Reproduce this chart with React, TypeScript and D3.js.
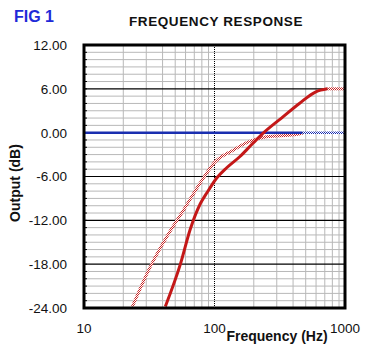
import React from 'react'
import * as d3 from 'd3'

// frequency response readings (Hz, dB)
const solidFreq = [42, 55, 65, 78, 87, 104, 124, 156, 197, 242, 326, 447, 598, 733]
const solidDb = [-23.8, -17.9, -13.3, -9.7, -8.3, -6.2, -4.8, -3.3, -1.45, 0.1, 2.0, 4.0, 5.6, 6.0]
const solidTailFreq = [733, 1000]
const solidTailDb = [6.0, 6.0]

const hatchFreq = [23.5, 32.3, 43.2, 57.9, 77.6, 101, 139, 186, 250, 409, 473]
const hatchDb = [-23.8, -18.3, -14.2, -10.6, -6.9, -4.0, -2.4, -1.2, -0.55, -0.3, -0.1]

const flatFreq = [10, 473]
const flatDb = [0, 0]
const flatTailFreq = [473, 1000]
const flatTailDb = [0, 0]

const yTicks = [12, 6, 0, -6, -12, -18, -24]
const xTicks = [10, 100, 1000]

const W = 375, H = 364
const left = 84, right = 345, top = 45, bottom = 308

const font = 'Liberation Sans, Arial, sans-serif'

export default function App() {
	const x = d3.scaleLog().domain([10, 1000]).range([left, right])
	const y = d3.scaleLinear().domain([-24, 12]).range([bottom, top])

	const line = d3.line<[number, number]>()
		.x(d => x(d[0]))
		.y(d => y(d[1]))
		.curve(d3.curveMonotoneX)

	const pts = (f: number[], v: number[]) => f.map((ff, i) => [ff, v[i]] as [number, number])

	const minorY = d3.range(-23, 12).filter(v => v % 6 !== 0)
	const minorX = [20, 30, 40, 50, 60, 70, 80, 90, 200, 300, 400, 500, 600, 700, 800, 900]
	const majorY = [6, 0, -6, -12, -18]

	return (
		<div style={{position: 'absolute', left: 0, top: 0}}>
			<svg width={W} height={H} style={{display: 'block', background: '#fff'}}>
				<defs>
					<pattern id="hatchRed" width={2} height={2} patternUnits="userSpaceOnUse">
						<rect width={2} height={2} fill="#fff" />
						<rect width={1} height={1} fill="#c82828" />
						<rect x={1} y={1} width={1} height={1} fill="#c82828" />
					</pattern>
					<pattern id="hatchBlue" width={2} height={2} patternUnits="userSpaceOnUse">
						<rect width={2} height={2} fill="#fff" />
						<rect width={1} height={1} fill="#1a2fb0" />
						<rect x={1} y={1} width={1} height={1} fill="#1a2fb0" />
					</pattern>
					<clipPath id="plot">
						<rect x={left} y={top} width={right - left} height={bottom - top} />
					</clipPath>
				</defs>

				<text x={14} y={22} fill="#1f2ad8" fontFamily={font} fontWeight="bold" fontSize={16}>FIG 1</text>
				<text x={216} y={26} textAnchor="middle" fill="#111" fontFamily={font} fontWeight="bold" fontSize={13.5} letterSpacing={0.6}>FREQUENCY RESPONSE</text>

				{/* grid */}
				{minorY.map(v => (
					<line key={'my' + v} x1={left} x2={right} y1={y(v)} y2={y(v)} stroke="#b8b8b8" strokeWidth={1} />
				))}
				{minorX.map(v => (
					<line key={'mx' + v} x1={x(v)} x2={x(v)} y1={top} y2={bottom} stroke="#b8b8b8" strokeWidth={1} />
				))}
				{majorY.map(v => (
					<line key={'My' + v} x1={left} x2={right} y1={y(v)} y2={y(v)} stroke="#000" strokeWidth={1.2} />
				))}
				<line x1={x(100)} x2={x(100)} y1={top} y2={bottom} stroke="#000" strokeWidth={1} strokeDasharray="1 1" />
				{d3.range(-23, 12).map(v => (
					<line key={'t' + v} x1={left} x2={left + 3} y1={y(v)} y2={y(v)} stroke="#000" strokeWidth={1} />
				))}

				{/* curves */}
				<g clipPath="url(#plot)" fill="none">
					<path d={line(pts(hatchFreq, hatchDb)) || ''} stroke="url(#hatchRed)" strokeWidth={3} />
					<path d={line(pts(flatFreq, flatDb)) || ''} stroke="#1a2fb0" strokeWidth={2.5} />
					<path d={line(pts(flatTailFreq, flatTailDb)) || ''} stroke="url(#hatchBlue)" strokeWidth={2.5} />
					<path d={line(pts(solidTailFreq, solidTailDb)) || ''} stroke="url(#hatchRed)" strokeWidth={3} />
					<path d={line(pts(solidFreq, solidDb)) || ''} stroke="#c41818" strokeWidth={3} />
				</g>

				<rect x={left} y={top} width={right - left} height={bottom - top} fill="none" stroke="#000" strokeWidth={3} />

				{/* axes labels */}
				{yTicks.map(v => (
					<text key={'yl' + v} x={67} y={y(v)} dy="0.36em" textAnchor="end" fontFamily={font} fontSize={13.5} fill="#111">
						{v.toFixed(2)}
					</text>
				))}
				{xTicks.map(v => (
					<text key={'xl' + v} x={x(v)} y={333} textAnchor="middle" fontFamily={font} fontSize={13.5} fill="#111">
						{v}
					</text>
				))}
				<text x={277} y={341} textAnchor="middle" fontFamily={font} fontWeight="bold" fontSize={14} fill="#111">Frequency (Hz)</text>
				<text transform="translate(20,183) rotate(-90)" textAnchor="middle" fontFamily={font} fontWeight="bold" fontSize={14} fill="#111">Output (dB)</text>
			</svg>
		</div>
	)
}
